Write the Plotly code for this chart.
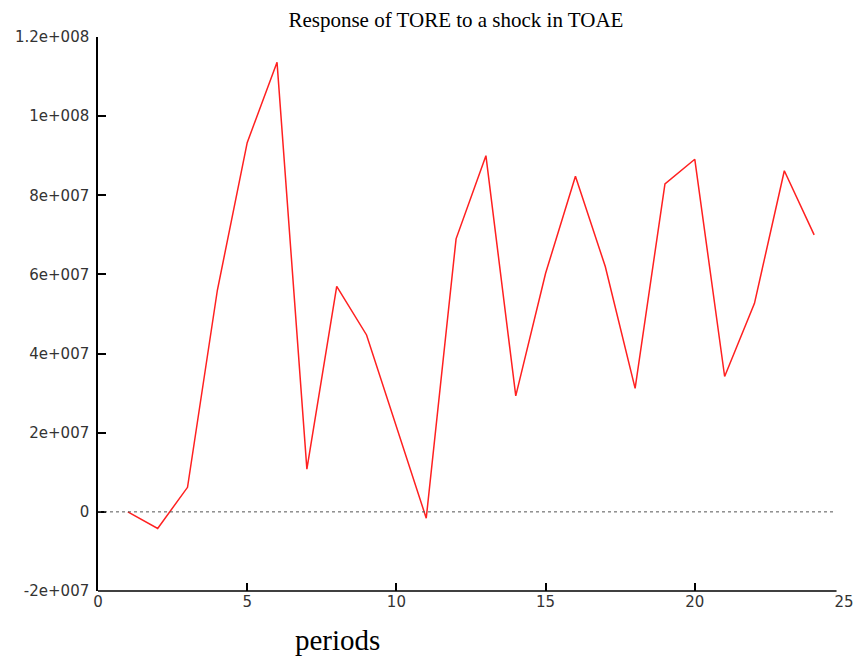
import plotly.graph_objects as go

# Impulse response of TORE to a shock in TOAE, by period
periods = list(range(1, 25))
response = [
    0.0, -4.2e6, 6.2e6, 5.6e7, 9.33e7, 1.136e8, 1.08e7, 5.7e7,
    4.47e7, 2.17e7, -1.6e6, 6.9e7, 9.0e7, 2.93e7, 6.03e7, 8.48e7,
    6.2e7, 3.12e7, 8.29e7, 8.91e7, 3.42e7, 5.27e7, 8.62e7, 7.0e7,
]
x_ticks = [0, 5, 10, 15, 20, 25]
y_ticks = [-2e7, 0, 2e7, 4e7, 6e7, 8e7, 1e8, 1.2e8]
y_tick_text = ["-2e+007", "0", "2e+007", "4e+007", "6e+007", "8e+007", "1e+008", "1.2e+008"]

fig = go.Figure()
fig.add_trace(go.Scatter(
    x=periods, y=response, mode="lines",
    line=dict(color="#ff2020", width=1.5),
    showlegend=False, hoverinfo="skip",
))

# dotted zero reference line
fig.add_shape(type="line", xref="paper", yref="y", x0=0, x1=0.988, y0=0, y1=0,
              line=dict(color="#555555", width=1, dash="dot"))
# x axis baseline
fig.add_shape(type="line", xref="paper", yref="paper", x0=0, x1=0.990, y0=0, y1=0,
              line=dict(color="black", width=1.5))

fig.update_layout(
    width=857, height=656,
    margin=dict(l=98, r=13, t=37, b=65),
    paper_bgcolor="white", plot_bgcolor="white",
    title=dict(text="Response of TORE to a shock in TOAE",
               font=dict(family="Liberation Serif", size=21, color="black"),
               x=0.532, xanchor="center", y=0.970, yanchor="middle", yref="container"),
    xaxis=dict(range=[0, 25], tickvals=x_ticks, ticks="inside", ticklen=8,
               tickcolor="black", tickwidth=1.5, showline=False, showgrid=False,
               zeroline=False, automargin=False,
               tickfont=dict(family="DejaVu Sans", size=15, color="#333333")),
    yaxis=dict(range=[-2e7, 1.2e8], tickvals=y_ticks, ticktext=y_tick_text,
               ticks="inside", ticklen=8, tickcolor="black", tickwidth=1.5,
               showline=True, linecolor="black", linewidth=1.5, showgrid=False,
               zeroline=False, ticklabelstandoff=4, automargin=False,
               tickfont=dict(family="DejaVu Sans", size=15, color="#333333")),
)

fig.add_annotation(text="periods", xref="paper", yref="paper", x=0.321, y=-0.088,
                   xanchor="center", yanchor="middle", showarrow=False,
                   font=dict(family="Liberation Serif", size=29, color="black"))

fig.write_html("out.html")
